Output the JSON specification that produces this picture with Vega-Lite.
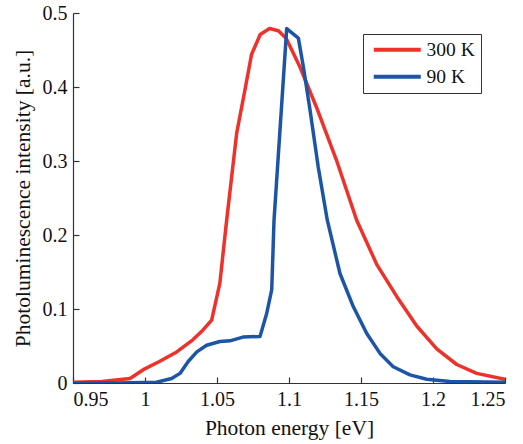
{
  "$schema": "https://vega.github.io/schema/vega-lite/v6.json",
  "width": 432,
  "height": 370,
  "autosize": {"type": "none"},
  "padding": {"left": 73, "top": 13, "right": 18, "bottom": 61},
  "background": "white",
  "data": {"values": [
    {"E": 0.95, "I": 0.001, "T": "300 K"},
    {"E": 0.97, "I": 0.002, "T": "300 K"},
    {"E": 0.9896, "I": 0.006, "T": "300 K"},
    {"E": 0.9988, "I": 0.018, "T": "300 K"},
    {"E": 1.01, "I": 0.029, "T": "300 K"},
    {"E": 1.022, "I": 0.042, "T": "300 K"},
    {"E": 1.033, "I": 0.058, "T": "300 K"},
    {"E": 1.040, "I": 0.071, "T": "300 K"},
    {"E": 1.0463, "I": 0.085, "T": "300 K"},
    {"E": 1.052, "I": 0.135, "T": "300 K"},
    {"E": 1.0567, "I": 0.22, "T": "300 K"},
    {"E": 1.0637, "I": 0.338, "T": "300 K"},
    {"E": 1.0694, "I": 0.396, "T": "300 K"},
    {"E": 1.074, "I": 0.444, "T": "300 K"},
    {"E": 1.080, "I": 0.471, "T": "300 K"},
    {"E": 1.0865, "I": 0.479, "T": "300 K"},
    {"E": 1.0926, "I": 0.476, "T": "300 K"},
    {"E": 1.098, "I": 0.466, "T": "300 K"},
    {"E": 1.1076, "I": 0.427, "T": "300 K"},
    {"E": 1.119, "I": 0.373, "T": "300 K"},
    {"E": 1.133, "I": 0.301, "T": "300 K"},
    {"E": 1.147, "I": 0.22, "T": "300 K"},
    {"E": 1.161, "I": 0.160, "T": "300 K"},
    {"E": 1.1748, "I": 0.117, "T": "300 K"},
    {"E": 1.1887, "I": 0.077, "T": "300 K"},
    {"E": 1.2026, "I": 0.046, "T": "300 K"},
    {"E": 1.2165, "I": 0.025, "T": "300 K"},
    {"E": 1.2303, "I": 0.013, "T": "300 K"},
    {"E": 1.25, "I": 0.005, "T": "300 K"},
    {"E": 0.95, "I": 0.0, "T": "90 K"},
    {"E": 0.98, "I": 0.0, "T": "90 K"},
    {"E": 1.008, "I": 0.001, "T": "90 K"},
    {"E": 1.0185, "I": 0.006, "T": "90 K"},
    {"E": 1.0243, "I": 0.013, "T": "90 K"},
    {"E": 1.030, "I": 0.029, "T": "90 K"},
    {"E": 1.036, "I": 0.042, "T": "90 K"},
    {"E": 1.0428, "I": 0.051, "T": "90 K"},
    {"E": 1.052, "I": 0.056, "T": "90 K"},
    {"E": 1.059, "I": 0.057, "T": "90 K"},
    {"E": 1.068, "I": 0.062, "T": "90 K"},
    {"E": 1.0799, "I": 0.063, "T": "90 K"},
    {"E": 1.0845, "I": 0.094, "T": "90 K"},
    {"E": 1.088, "I": 0.126, "T": "90 K"},
    {"E": 1.0896, "I": 0.22, "T": "90 K"},
    {"E": 1.0984, "I": 0.479, "T": "90 K"},
    {"E": 1.1065, "I": 0.466, "T": "90 K"},
    {"E": 1.11, "I": 0.427, "T": "90 K"},
    {"E": 1.1146, "I": 0.369, "T": "90 K"},
    {"E": 1.1203, "I": 0.292, "T": "90 K"},
    {"E": 1.1266, "I": 0.22, "T": "90 K"},
    {"E": 1.1354, "I": 0.148, "T": "90 K"},
    {"E": 1.1447, "I": 0.103, "T": "90 K"},
    {"E": 1.154, "I": 0.067, "T": "90 K"},
    {"E": 1.1632, "I": 0.040, "T": "90 K"},
    {"E": 1.1724, "I": 0.022, "T": "90 K"},
    {"E": 1.184, "I": 0.011, "T": "90 K"},
    {"E": 1.1956, "I": 0.005, "T": "90 K"},
    {"E": 1.2118, "I": 0.002, "T": "90 K"},
    {"E": 1.25, "I": 0.001, "T": "90 K"}
  ]},
  "mark": {"type": "line", "strokeWidth": 3.5, "strokeJoin": "round", "clip": true},
  "encoding": {
    "x": {
      "field": "E", "type": "quantitative",
      "scale": {"domain": [0.95, 1.25], "nice": false, "zero": false},
      "axis": {
        "title": "Photon energy [eV]",
        "values": [0.95, 1, 1.05, 1.1, 1.15, 1.2, 1.25],
        "format": "~g",
        "labelPadding": 12,
        "titlePadding": 8
      }
    },
    "y": {
      "field": "I", "type": "quantitative",
      "scale": {"domain": [0, 0.5], "nice": false},
      "axis": {
        "title": "Photoluminescence intensity [a.u.]",
        "values": [0, 0.1, 0.2, 0.3, 0.4, 0.5],
        "format": "~g",
        "labelPadding": 12,
        "titlePadding": 8
      }
    },
    "color": {
      "field": "T", "type": "nominal",
      "scale": {"domain": ["300 K", "90 K"], "range": ["#ee312b", "#1c55a6"]},
      "legend": {
        "title": null,
        "orient": "none",
        "legendX": 290,
        "legendY": 21,
        "symbolType": "M-1,0H8.4",
        "symbolSize": 100,
        "symbolStrokeWidth": 4,
        "symbolFillColor": "transparent",
        "rowPadding": 6,
        "padding": 6,
        "labelOffset": 38,
        "strokeColor": "#333333",
        "fillColor": "white",
        "labelFont": "Liberation Serif",
        "labelFontSize": 19.5,
        "labelColor": "#111111"
      }
    }
  },
  "config": {
    "view": {"stroke": null},
    "axis": {
      "grid": false,
      "domainColor": "#333333",
      "domainWidth": 1.2,
      "tickColor": "#333333",
      "tickSize": -6,
      "tickWidth": 1.2,
      "labelFont": "Liberation Serif",
      "labelFontSize": 20,
      "labelColor": "#111111",
      "titleFont": "Liberation Serif",
      "titleFontSize": 21.5,
      "titleFontWeight": "normal",
      "titleColor": "#111111"
    }
  }
}
